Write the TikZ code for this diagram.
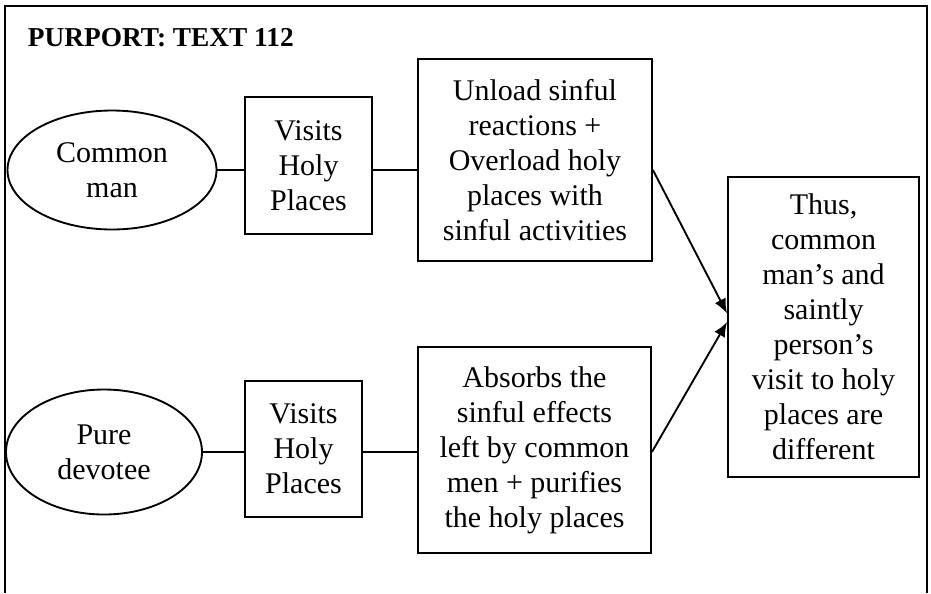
\documentclass[tikz,border=0pt]{standalone}
\usepackage{fontspec}
\setmainfont{Liberation Serif}
\usetikzlibrary{arrows.meta,shapes.geometric}
\begin{document}
\begin{tikzpicture}[x=0.75pt,y=-0.75pt,line width=1.4pt,
  every node/.style={font=\fontsize{22.5}{26.25}\selectfont,align=center,inner sep=0pt},
  oval/.style={draw,ellipse},
  box/.style={draw,rectangle},
  link/.style={-{Latex[length=11pt,width=9pt]}}]
\useasboundingbox (0,0) rectangle (931,593);
\draw (5,593) -- (5,6) -- (927,6) -- (927,593);
\node[anchor=base west,font=\fontsize{20.5}{24}\selectfont\bfseries] (title) at (27,46) {PURPORT: TEXT 112};
% common man row
\node[oval,minimum width=156.75pt,minimum height=89.25pt] (cm) at (112,170) {Common\\man};
\node[box,minimum width=95.25pt,minimum height=102.75pt] (vh1) at (308.5,165.5) {Visits\\Holy\\Places};
\node[box,minimum width=175.5pt,minimum height=151.5pt] (ub) at (535,160)
  {Unload sinful\\reactions +\\Overload holy\\places with\\sinful activities};
% pure devotee row
\node[oval,minimum width=147pt,minimum height=93.75pt] (pd) at (104,452) {Pure\\devotee};
\node[box,minimum width=87.75pt,minimum height=102pt] (vh2) at (303.5,449) {Visits\\Holy\\Places};
\node[box,minimum width=174.75pt,minimum height=154.5pt] (ab) at (534.5,450)
  {Absorbs the\\sinful effects\\left by common\\men + purifies\\the holy places};
% result
\node[box,minimum width=143.25pt,minimum height=225pt] (res) at (823.5,327)
  {Thus,\\common\\man’s and\\saintly\\person’s\\visit to holy\\places are\\different};
\draw (cm.east) -- (cm.east -| vh1.west);
\draw (vh1.east |- cm.east) -- (cm.east -| ub.west);
\draw (pd.east) -- (pd.east -| vh2.west);
\draw (vh2.east |- pd.east) -- (pd.east -| ab.west);
\draw[link] (ub.east |- cm.east) -- (res.172);
\draw[link] (ab.east |- pd.east) -- (res.177);
\end{tikzpicture}
\end{document}
